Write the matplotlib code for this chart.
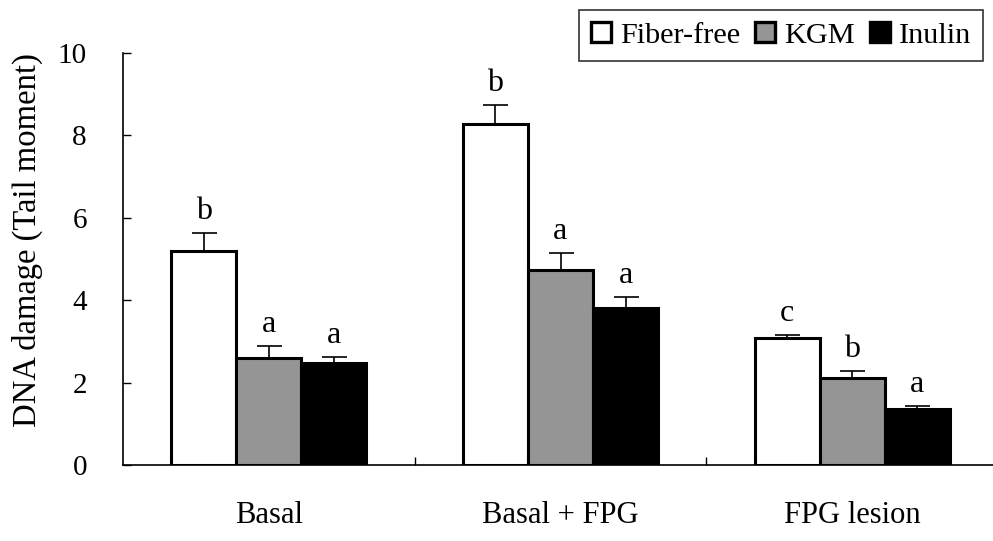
import numpy as np
from matplotlib import pyplot as plt
from matplotlib.patches import Patch

# data
groups = ['Basal', 'Basal + FPG', 'FPG lesion']
series = ['Fiber-free', 'KGM', 'Inulin']
fiber_free = [5.20, 8.27, 3.08]
fiber_free_err = [0.42, 0.46, 0.08]
kgm = [2.59, 4.73, 2.10]
kgm_err = [0.29, 0.40, 0.17]
inulin = [2.47, 3.81, 1.36]
inulin_err = [0.14, 0.26, 0.08]
fiber_free_sig = ['b', 'b', 'c']
kgm_sig = ['a', 'a', 'b']
inulin_sig = ['a', 'a', 'a']

plt.rcParams['font.family'] = ['Liberation Serif', 'DejaVu Serif']

fig = plt.figure(figsize=(9.93, 5.41), dpi=100)
ax = fig.add_axes([123/993, 76/541, 875/993, 412.3/541])

x = np.arange(len(groups))
w = 0.223
colors = ['white', '#959595', 'black']
vals = [fiber_free, kgm, inulin]
errs = [fiber_free_err, kgm_err, inulin_err]
sigs = [fiber_free_sig, kgm_sig, inulin_sig]

for i in range(3):
    pos = x + (i - 1) * w
    ax.bar(pos, vals[i], width=w, color=colors[i], edgecolor='black',
           linewidth=2.2, zorder=2)
    ax.errorbar(pos, vals[i], yerr=[np.zeros(3), errs[i]], fmt='none',
                ecolor='black', elinewidth=1.2, capsize=9, capthick=1.2, zorder=1)
    for p, v, e, s in zip(pos, vals[i], errs[i], sigs[i]):
        ax.text(p, v + e + 0.17, s, ha='center', va='bottom', fontsize=23)

ax.set_xlim(-0.5, 2.5)
ax.set_ylim(0, 10)
ax.set_yticks([0, 2, 4, 6, 8, 10])
ax.set_xticks(x)
ax.set_xticklabels(groups)
ax.set_xticks([0.5, 1.5], minor=True)
ax.tick_params(axis='x', which='major', length=0, pad=26, labelsize=22)
ax.tick_params(axis='x', which='minor', direction='in', length=6, width=1)
ax.tick_params(axis='y', direction='in', length=6, width=1, pad=26, labelsize=21)
ax.set_ylabel('DNA damage (Tail moment)', fontsize=23.5)
ax.yaxis.set_label_coords(-80/875, 0.546)

for side in ['top', 'right']:
    ax.spines[side].set_visible(False)
for side in ['left', 'bottom']:
    ax.spines[side].set_linewidth(1.2)

handles = [Patch(facecolor=c, edgecolor='black', linewidth=2.4) for c in colors]
leg = fig.legend(handles, series, loc='upper right', bbox_to_anchor=(983/993, 1 - 10/541),
                 ncol=3, fontsize=21.8, frameon=True, fancybox=False, edgecolor='black',
                 handlelength=0.65, handleheight=0.65, handletextpad=0.3,
                 columnspacing=0.5, borderpad=0.4, borderaxespad=0)
leg.get_frame().set_linewidth(1.2)

fig.savefig('out.png', dpi=100)
